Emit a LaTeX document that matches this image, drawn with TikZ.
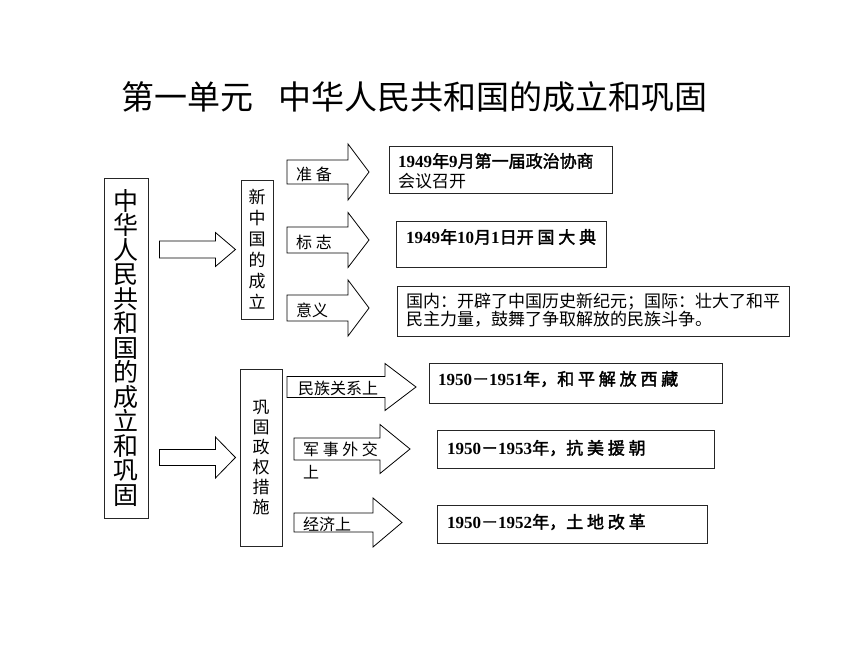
\documentclass[tikz,border=0pt]{standalone}
\usepackage{fontspec}
\usetikzlibrary{calc}
\setmainfont{Liberation Serif}
\newfontfamily\cjk[AutoFakeBold=2]{Noto Sans CJK SC}
\newfontfamily\numfont{Liberation Serif}
\newcommand\yr{\numfont\bfseries}
% block arrow: start, shaft length, head length, shaft half, head half
\newcommand\blockarrow[5]{%
  \draw[arrowline] (#1) ++(0,-#4) -- ++(#2,0) -- ++(0,#4-#5) -- ++(#3,#5)
    -- ++(-#3,#5) -- ++(0,#4-#5) -- ++(-#2,0) -- cycle;}
\begin{document}
\begin{tikzpicture}[x=1pt,y=-1pt]
	\tikzset{box/.style={draw=black!85, line width=0.9pt, anchor=north west, inner sep=0pt},
		arrowline/.style={draw=black, line width=0.8pt, fill=white},
		txt/.style={anchor=west, inner sep=0pt, align=left, font=\cjk\fontsize{17}{20}\selectfont},
		lbl/.style={anchor=west, inner sep=0pt, align=left, font=\cjk\fontsize{16}{23}\selectfont},
		head/.style={inner sep=0pt, font=\cjk\fontsize{33}{33}\selectfont},
		vbox/.style={draw=black!85, line width=0.9pt, align=center, inner sep=0pt}};
	\useasboundingbox (0,0) rectangle (860,645);

	\node[head, anchor=west] (unit) at (121,97) {第一单元};
	\node[head, anchor=east] (title) at (708,97) {中华人民共和国的成立和巩固};

	\node[vbox, minimum width=44pt, minimum height=340pt, font=\cjk\fontsize{25}{24.5}\selectfont] (main) at (126,348) {中\\华\\人\\民\\共\\和\\国\\的\\成\\立\\和\\巩\\固};
	\node[vbox, minimum width=32pt, minimum height=139pt, font=\cjk\fontsize{17}{21}\selectfont] (found) at (257,249.5) {新\\中\\国\\的\\成\\立};
	\node[vbox, minimum width=42pt, minimum height=177pt, font=\cjk\fontsize{17}{20}\selectfont] (consol) at (261,457.5) {巩\\固\\政\\权\\措\\施};

	\coordinate (a1) at ($(main.east |- found)+(11,0)$);
	\coordinate (a2) at ($(main.east |- consol)+(11,0)$);
	\blockarrow{a1}{56}{20}{8.5}{17}
	\blockarrow{a2}{56}{20}{8}{20.5}

	% new China
	\coordinate (p1) at (287,172);
	\coordinate (p2) at (287,240);
	\coordinate (p3) at (287,308);
	\blockarrow{p1}{61}{21}{12}{28}
	\blockarrow{p2}{61}{21}{13}{27.5}
	\blockarrow{p3}{61}{21}{13}{28}
	\node[lbl] (prep) at (296,174) {准 备};
	\node[lbl] (sign) at (296,242) {标 志};
	\node[lbl] (mean) at (296,310) {意义};

	% consolidation
	\coordinate (q1) at (287,387);
	\coordinate (q2) at (294,449);
	\coordinate (q3) at (294,522.5);
	\blockarrow{q1}{98}{31}{10.5}{23.5}
	\blockarrow{q2}{86}{30}{11}{24.5}
	\blockarrow{q3}{79}{29}{9.5}{24.5}
	\node[lbl] (nation) at (298,388) {民族关系上};
	\node[lbl] (army) at (303,460.5) {军 事 外 交\\上};
	\node[lbl] (econ) at (303,524) {经济上};

	\node[box, minimum width=223pt, minimum height=47pt] (b1) at (389,146) {};
	\node[box, minimum width=210pt, minimum height=46pt] (b2) at (396,221) {};
	\node[box, minimum width=392pt, minimum height=50pt] (b3) at (397,286) {};
	\node[box, minimum width=293pt, minimum height=40pt] (b4) at (429,363) {};
	\node[box, minimum width=277pt, minimum height=38pt] (b5) at (437,430) {};
	\node[box, minimum width=270pt, minimum height=38pt] (b6) at (437,505) {};

	\node[txt] (t1) at (398,171) {\bfseries{\yr 1949}年{\yr 9}月第一届政治协商\\会议召开};
	\node[txt] (t2) at (406,237) {\bfseries{\yr 1949}年{\yr 10}月{\yr 1}日开 国 大 典};
	\node[txt, font=\cjk\fontsize{17}{17}\selectfont] (t3) at (406,310) {国内：开辟了中国历史新纪元；国际：壮大了和平\\民主力量，鼓舞了争取解放的民族斗争。};
	\node[txt] (t4) at (438,379) {\bfseries{\yr 1950}－{\yr 1951}年，和 平 解 放 西 藏};
	\node[txt] (t5) at (447,448) {\bfseries{\yr 1950}－{\yr 1953}年，抗 美 援 朝};
	\node[txt] (t6) at (447,522) {\bfseries{\yr 1950}－{\yr 1952}年，土 地 改 革};
\end{tikzpicture}
\end{document}
